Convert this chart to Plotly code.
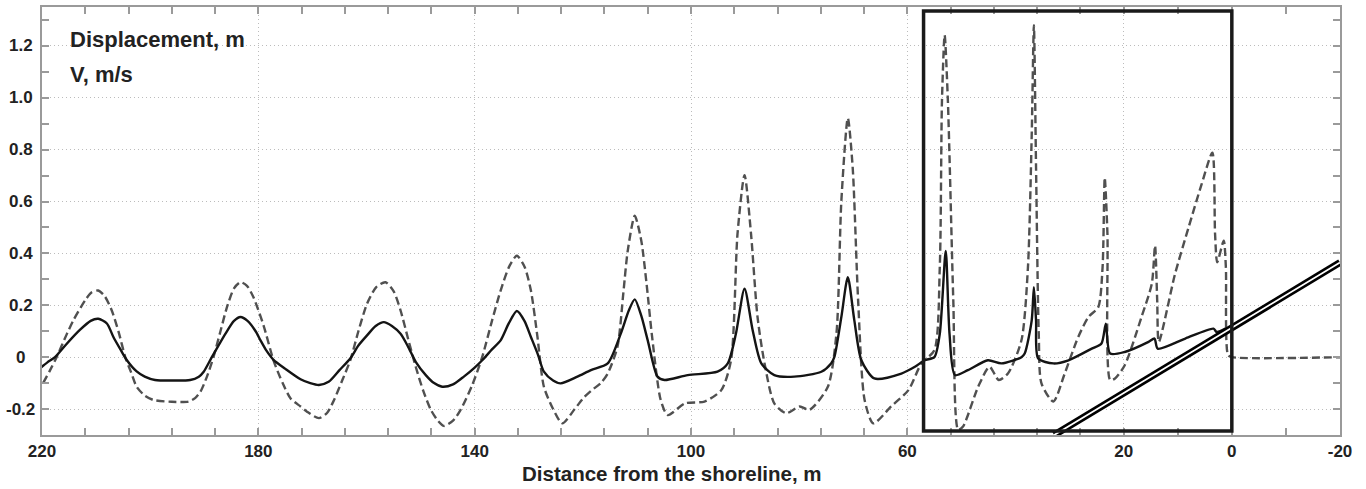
import plotly.graph_objects as go

# ---- data ----
disp_x = [220.4, 219.0, 217.6, 215.5, 213.0, 211.0, 209.6, 208.0, 206.8, 205.5, 204.3, 202.5, 201.0, 199.1,
          195.8, 192.6, 191.0, 190.1, 188.6, 186.1, 184.5, 183.3, 182.0, 180.5, 179.6, 178.5, 177.2, 175.0,
          172.2, 170.4, 168.8, 167.0, 165.0, 163.0, 161.5, 159.9, 158.3, 156.8, 155.3, 153.7, 152.3, 150.9,
          149.0, 147.5, 146.0, 144.0, 142.0, 140.0, 138.6, 136.8, 135.2, 133.7, 132.2, 130.8, 129.6, 128.3,
          127.2, 125.5, 124.1, 121.0, 118.5, 115.4, 113.0, 111.5, 110.4, 109.2, 108.0, 106.2, 104.9, 100.6,
          95.1, 93.2, 91.7, 90.1, 88.6, 87.0, 84.6, 80.9, 75.9, 74.1, 73.5, 72.2, 71.0, 69.8, 68.5, 66.1,
          61.1, 58.6, 56.8, 55.0, 54.0, 52.9, 52.2, 51.2, 48.8, 45.1, 42.6, 38.9, 38.3, 37.0, 36.6, 36.2,
          35.8, 33.0, 30.2, 25.9, 24.1, 23.3, 22.5, 19.8, 15.4, 14.3, 13.7, 8.6, 3.4, 2.8, 1.2]
disp_y = [-0.043, -0.02, 0.0, 0.05, 0.105, 0.14, 0.148, 0.13, 0.078, 0.03, -0.012, -0.055, -0.075, -0.088,
          -0.09, -0.088, -0.075, -0.056, 0.0, 0.09, 0.14, 0.155, 0.14, 0.1, 0.065, 0.025, -0.01, -0.045,
          -0.085, -0.1, -0.107, -0.095, -0.05, -0.005, 0.045, 0.084, 0.12, 0.135, 0.12, 0.09, 0.04, -0.018,
          -0.07, -0.1, -0.114, -0.105, -0.075, -0.04, -0.012, 0.03, 0.065, 0.13, 0.178, 0.14, 0.078, 0.01,
          -0.056, -0.09, -0.101, -0.075, -0.05, -0.024, 0.09, 0.18, 0.223, 0.16, 0.065, -0.075, -0.088, -0.069,
          -0.056, -0.024, 0.09, 0.264, 0.104, -0.024, -0.069, -0.075, -0.056, -0.024, 0.0, 0.155, 0.308, 0.142,
          -0.012, -0.082, -0.063, -0.037, -0.012, 0.0, 0.09, 0.41, 0.09, -0.069, -0.05, -0.012, -0.024, 0.0,
          0.014, 0.142, 0.27, 0.142, -0.005, -0.024, -0.012, 0.033, 0.053, 0.129, 0.014, 0.02, 0.059, 0.072,
          0.033, 0.072, 0.11, 0.097, 0.11]

vel_x = [219.8, 218.5, 217.3, 215.5, 214.2, 212.0, 210.8, 209.6, 208.4, 207.1, 205.8, 204.6, 203.5, 202.5,
         201.0, 199.4, 196.0, 192.9, 191.7, 190.7, 189.5, 188.3, 187.0, 185.8, 184.5, 183.3, 182.1, 180.9,
         179.0, 177.2, 175.5, 174.0, 172.2, 171.0, 168.8, 167.3, 166.0, 164.5, 163.0, 161.5, 159.9, 158.2,
         156.5, 155.0, 153.7, 152.3, 150.9, 149.5, 148.1, 146.8, 145.7, 144.0, 142.6, 140.5, 138.6, 136.8,
         135.2, 133.6, 132.2, 130.8, 129.6, 128.4, 127.2, 125.5, 123.8, 121.5, 119.8, 118.5, 116.7, 115.4,
         113.6, 112.5, 111.7, 110.4, 109.2, 108.2, 107.2, 105.6, 104.3, 101.1, 97.5, 94.4, 92.6, 91.4,
         90.1, 88.9, 87.7, 86.4, 84.6, 82.4, 79.9, 78.1, 74.7, 73.1, 72.2, 71.0, 70.1, 69.1, 67.9, 66.3,
         63.0, 59.8, 57.4, 55.0, 54.0, 53.6, 53.1, 52.5, 51.5, 50.6, 49.7, 46.9, 44.8, 43.1, 41.4, 38.9,
         37.7, 37.0, 36.6, 36.2, 35.7, 35.2, 33.0, 30.9, 28.4, 26.5, 24.7, 23.9, 23.5, 23.0, 22.5, 21.6,
         19.8, 16.7, 14.8, 14.2, 13.8, 13.5, 10.5, 8.0, 5.6, 3.6, 3.1, 2.7, 1.5, 1.1, 0.7, 0.0, -20.0]
vel_y = [-0.1, -0.05, 0.0, 0.085, 0.142, 0.22, 0.25, 0.257, 0.235, 0.18, 0.095, 0.0, -0.06, -0.114,
         -0.148, -0.165, -0.172, -0.171, -0.158, -0.133, -0.075, 0.0, 0.1, 0.193, 0.265, 0.289, 0.275, 0.231,
         0.12, -0.012, -0.1, -0.16, -0.19, -0.21, -0.235, -0.215, -0.165, -0.09, -0.012, 0.1, 0.206, 0.27,
         0.289, 0.255, 0.18, 0.07, -0.037, -0.13, -0.203, -0.245, -0.265, -0.245, -0.203, -0.11, 0.001, 0.14,
         0.257, 0.35, 0.391, 0.35, 0.257, 0.08, -0.114, -0.2, -0.255, -0.2, -0.155, -0.13, -0.1, -0.063,
         0.04, 0.25, 0.41, 0.545, 0.45, 0.28, 0.08, -0.165, -0.223, -0.178, -0.171, -0.127, -0.012, 0.475,
         0.702, 0.475, 0.155, -0.024, -0.178, -0.216, -0.19, -0.203, -0.114, 0.092, 0.602, 0.922, 0.73, 0.219,
         -0.165, -0.255, -0.19, -0.127, -0.024, 0.027, 0.346, 0.986, 1.242, 0.986, 0.219, -0.28, -0.267,
         -0.114, -0.037, -0.088, -0.063, 0.065, 0.346, 0.858, 1.28, 0.73, 0.09, -0.101, -0.171, -0.063, 0.078,
         0.155, 0.193, 0.346, 0.692, 0.475, -0.088, -0.082, -0.031, 0.155, 0.283, 0.43, 0.219, 0.059, 0.321,
         0.5, 0.666, 0.788, 0.475, 0.366, 0.449, 0.346, 0.008, 0.0, 0.0]

x_major = [220, 180, 140, 100, 60, 20, 0, -20]
x_major_text = ["220", "180", "140", "100", "60", "20", "0", "-20"]
x_minor = [212, 204, 196, 188, 172, 164, 156, 148, 132, 124, 116, 108, 92, 84, 76, 68,
           52, 44, 36, 28, 10, -10]
y_major = [-0.2, 0.0, 0.2, 0.4, 0.6, 0.8, 1.0, 1.2]
y_major_text = ["-0.2", "0", "0.2", "0.4", "0.6", "0.8", "1.0", "1.2"]
y_minor = [-0.1, 0.1, 0.3, 0.5, 0.7, 0.9, 1.1, 1.3]

box_x = [57, 0]
box_y = [-0.285, 1.335]
beach_x = [32.85, -20]
beach_y = [-0.3, 0.365]

x_title = "Distance from the shoreline, m"
legend_texts = ["Displacement, m", "V, m/s"]

# ---- figure ----
FONT = "Arial, Liberation Sans, sans-serif"
AX = "#9a9a9a"
GRID = "#bcbcbc"
fig = go.Figure()

fig.add_trace(go.Scatter(x=vel_x, y=vel_y, mode="lines",
                         line=dict(color="#505050", width=2.4, dash="8px,4px", shape="spline", smoothing=0.7),
                         hoverinfo="skip"))
fig.add_trace(go.Scatter(x=disp_x, y=disp_y, mode="lines",
                         line=dict(color="#141414", width=2.4, shape="spline", smoothing=0.7),
                         hoverinfo="skip"))
fig.add_trace(go.Scatter(x=beach_x, y=beach_y, mode="lines",
                         line=dict(color="#000000", width=7), hoverinfo="skip"))
fig.add_trace(go.Scatter(x=beach_x, y=beach_y, mode="lines",
                         line=dict(color="#ffffff", width=1.8), hoverinfo="skip"))

fig.add_shape(type="rect", xref="x", yref="y", x0=box_x[0], x1=box_x[1], y0=box_y[0], y1=box_y[1],
              line=dict(color="#1a1a1a", width=3.5), layer="above")

fig.update_xaxes(range=[220, -20], tickmode="array", tickvals=x_major, ticktext=x_major_text,
                 ticks="inside", ticklen=7, tickwidth=1.5, tickcolor=AX,
                 showline=True, linecolor=AX, linewidth=1.5, mirror="ticks",
                 showgrid=True, gridcolor=GRID, gridwidth=1, griddash="1px,3px", zeroline=False,
                 tickfont=dict(family=FONT, size=17, color="#222222", weight="bold"),
                 minor=dict(tickmode="array", tickvals=x_minor, ticks="inside", ticklen=7,
                            tickwidth=1.5, tickcolor=AX, showgrid=False))
fig.update_yaxes(range=[-0.3, 1.35], tickmode="array", tickvals=y_major, showticklabels=False,
                 ticks="inside", ticklen=7, tickwidth=1.5, tickcolor=AX,
                 showline=True, linecolor=AX, linewidth=1.5, mirror="ticks",
                 showgrid=True, gridcolor=GRID, gridwidth=1, griddash="1px,3px", zeroline=False,
                 minor=dict(tickmode="array", tickvals=y_minor, ticks="inside", ticklen=7,
                            tickwidth=1.5, tickcolor=AX, showgrid=False))

for v, t in zip(y_major, y_major_text):
    fig.add_annotation(x=-0.0162, xref="paper", y=v, yref="y", text=t, showarrow=False,
                       xanchor="center", yanchor="middle",
                       font=dict(family=FONT, size=17, color="#222222", weight="bold"))

fig.add_annotation(x=0.02, xref="paper", y=0.923, yref="paper", text=legend_texts[0], showarrow=False,
                   xanchor="left", yanchor="middle", font=dict(family=FONT, size=22, color="#222222", weight="bold"))
fig.add_annotation(x=0.02, xref="paper", y=0.842, yref="paper", text=legend_texts[1], showarrow=False,
                   xanchor="left", yanchor="middle", font=dict(family=FONT, size=22, color="#222222", weight="bold"))
fig.add_annotation(x=0.4854, xref="paper", y=-0.0907, yref="paper", text=x_title, showarrow=False,
                   xanchor="center", yanchor="middle", font=dict(family=FONT, size=20.5, color="#222222", weight="bold"))

fig.update_layout(width=1366, height=489, margin=dict(l=42, r=26, t=5, b=54),
                  paper_bgcolor="white", plot_bgcolor="white", showlegend=False)

fig.write_html("out.html", config={"displayModeBar": False},
               post_script="document.body.style.margin='0px';")
